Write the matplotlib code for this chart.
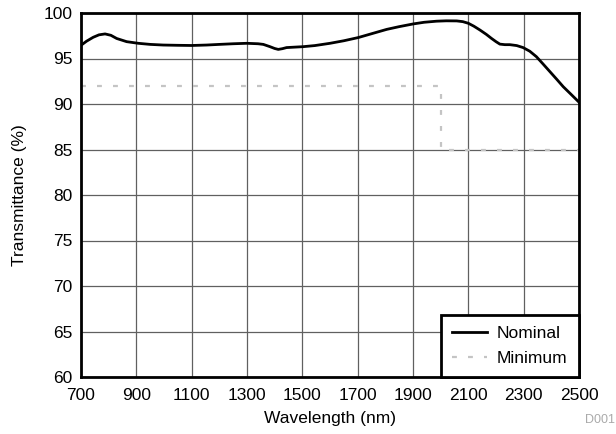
import matplotlib
matplotlib.use("Agg")
import matplotlib.pyplot as plt

plt.rcParams['font.family'] = ['Liberation Sans', 'DejaVu Sans']

# Nominal transmittance curve
nominal_wl = [700, 720, 744, 765, 787, 808, 829, 865, 907, 950, 997, 1050, 1100, 1154,
              1200, 1250, 1299, 1340, 1359, 1383, 1400, 1413, 1428, 1443, 1503, 1545,
              1600, 1650, 1702, 1750, 1805, 1850, 1901, 1940, 1985, 2020, 2058, 2080,
              2100, 2120, 2142, 2165, 2184, 2200, 2214, 2232, 2250, 2275, 2298, 2322,
              2346, 2370, 2395, 2420, 2443, 2470, 2500]
nominal_t = [96.45, 96.9, 97.33, 97.6, 97.7, 97.55, 97.2, 96.85, 96.67, 96.55, 96.48,
             96.45, 96.43, 96.48, 96.55, 96.62, 96.67, 96.62, 96.55, 96.3, 96.1, 96.0,
             96.08, 96.2, 96.3, 96.42, 96.67, 96.95, 97.3, 97.72, 98.2, 98.5, 98.8, 98.98,
             99.1, 99.14, 99.13, 99.05, 98.87, 98.55, 98.13, 97.65, 97.2, 96.85, 96.58,
             96.52, 96.52, 96.42, 96.2, 95.8, 95.2, 94.4, 93.55, 92.7, 91.9, 91.1, 90.2]

# Minimum specification
minimum_wl = [700, 2000, 2000, 2500]
minimum_t = [92, 92, 85, 85]

xticks = list(range(700, 2501, 200))
yticks = list(range(60, 101, 5))

fig = plt.figure(figsize=(6.16, 4.34), dpi=100)
ax = fig.add_axes([81/616, 1 - 377/434, (579-81)/616, (377-13)/434])

ax.plot(nominal_wl, nominal_t, color='black', lw=2.0, label='Nominal', zorder=3,
        solid_joinstyle='round')
ax.plot(minimum_wl, minimum_t, color='#c4c4c4', lw=1.6, dashes=(2.2, 5.0),
        label='Minimum', zorder=2)

ax.set_xlim(700, 2500)
ax.set_ylim(60, 100)
ax.set_xticks(xticks)
ax.set_yticks(yticks)
ax.tick_params(axis='x', length=0, labelsize=12.5, pad=8)
ax.tick_params(axis='y', length=0, labelsize=12.5, pad=6)
ax.grid(True, color='#606060', lw=0.9)
ax.set_axisbelow(True)
for s in ax.spines.values():
    s.set_linewidth(2.0)
    s.set_color('black')

ax.set_xlabel('Wavelength (nm)', fontsize=12.5, labelpad=6)
ax.set_ylabel('Transmittance (%)', fontsize=12.5, labelpad=12)

leg = ax.legend(loc='lower right', borderaxespad=0, fontsize=12.5, fancybox=False,
                framealpha=1, edgecolor='black', handlelength=2.0, handletextpad=0.6,
                labelspacing=0.55, borderpad=0.65)
leg.get_frame().set_linewidth(2.0)

fig.text(0.998, 0.018, 'D001', fontsize=9, color='#aaaaaa', ha='right', va='bottom')

fig.savefig('out.png', dpi=100)
